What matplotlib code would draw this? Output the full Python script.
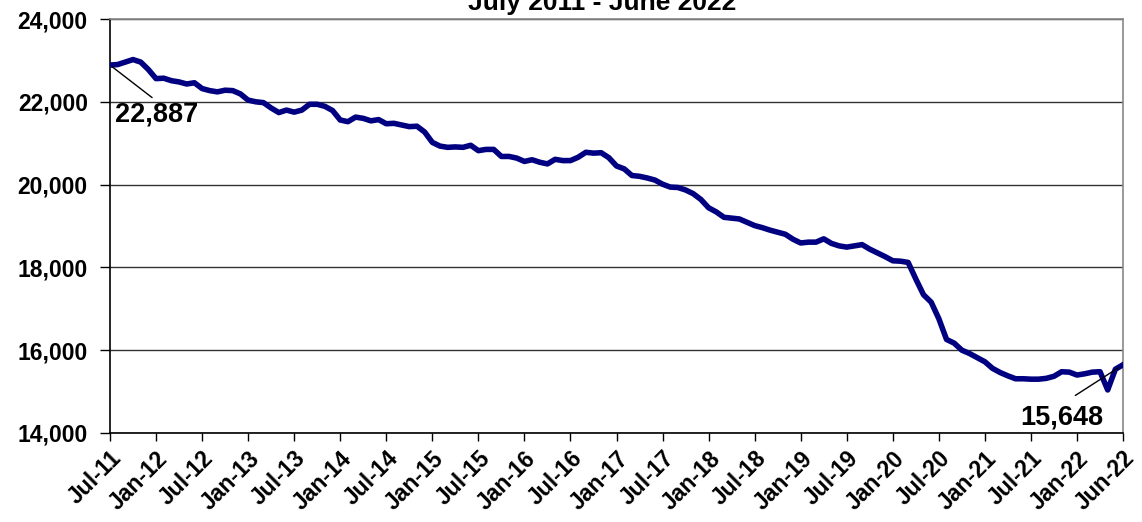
import numpy as np
import matplotlib
matplotlib.use("Agg")
import matplotlib.pyplot as plt
from matplotlib.ticker import FuncFormatter

plt.rcParams['font.family'] = ['Liberation Sans', 'DejaVu Sans']

# monthly values, Jul-11 .. Jun-22
values = [
    22887, 22900, 22960, 23020, 22960, 22780, 22560, 22570, 22510, 22480,
    22430, 22460, 22320, 22270, 22240, 22280, 22270, 22190, 22040, 22000,
    21980, 21850, 21740, 21800, 21750, 21800, 21940, 21940, 21890, 21790,
    21560, 21520, 21630, 21600, 21540, 21570, 21470, 21480, 21440, 21400,
    21410, 21270, 21020, 20930, 20900, 20910, 20900, 20950, 20820, 20850,
    20850, 20680, 20680, 20640, 20560, 20600, 20540, 20500, 20610, 20580,
    20580, 20660, 20780, 20760, 20770, 20650, 20450, 20380, 20220, 20200,
    20160, 20110, 20010, 19940, 19930, 19870, 19780, 19640, 19440, 19340,
    19210, 19190, 19170, 19090, 19010, 18960, 18900, 18850, 18800, 18680,
    18590, 18610, 18610, 18690, 18580, 18520, 18490, 18520, 18550, 18440,
    18350, 18260, 18160, 18150, 18120, 17720, 17340, 17160, 16760, 16260,
    16170, 16000, 15920, 15820, 15720, 15560, 15460, 15380, 15310, 15310,
    15300, 15300, 15320, 15370, 15480, 15470, 15400, 15430, 15470, 15480,
    15040, 15540, 15648,
]
tick_labels = ['Jul-11', 'Jan-12', 'Jul-12', 'Jan-13', 'Jul-13', 'Jan-14',
               'Jul-14', 'Jan-15', 'Jul-15', 'Jan-16', 'Jul-16', 'Jan-17',
               'Jul-17', 'Jan-18', 'Jul-18', 'Jan-19', 'Jul-19', 'Jan-20',
               'Jul-20', 'Jan-21', 'Jul-21', 'Jan-22', 'Jun-22']
title = 'July 2011 - June 2022'

x = np.arange(len(values))
n = len(values) - 1

fig = plt.figure(figsize=(11.42, 5.22), dpi=100)
ax = fig.add_axes([0.0963, 0.1705, 0.8871, 0.7931])

ax.plot(x, values, color='#000080', lw=4.0, solid_joinstyle='round', zorder=3)

ax.set_xlim(0, n)
ax.set_ylim(14000, 24000)
ax.set_yticks(np.arange(14000, 24001, 2000))
ax.yaxis.set_major_formatter(FuncFormatter(lambda v, p: f'{int(v):,}'))
ax.grid(axis='y', color='#333333', lw=1.0)
ax.set_axisbelow(True)

tick_pos = list(range(0, n - 5, 6)) + [n]
ax.set_xticks(tick_pos)
ax.set_xticklabels(tick_labels, rotation=45, ha='right', rotation_mode='anchor')

for lab in ax.get_xticklabels() + ax.get_yticklabels():
    lab.set_fontweight('bold')
    lab.set_fontsize(16.5)
ax.tick_params(axis='y', length=7, width=1, color='black', pad=9)
ax.tick_params(axis='x', length=6, width=1, color='black', pad=4)

ax.spines['left'].set_color('black')
ax.spines['bottom'].set_color('black')
ax.spines['top'].set_color('#888888')
ax.spines['right'].set_color('#888888')
for s in ax.spines.values():
    s.set_linewidth(1.2)

# data labels for first and last points
ax.annotate(f'{values[0]:,}', xy=(x[0], values[0]), xytext=(6.1, 21700),
            ha='center', va='center', fontsize=19.5, fontweight='bold',
            arrowprops=dict(arrowstyle='-', color='black', lw=1,
                            relpos=(0.5, 1.0), shrinkA=1, shrinkB=2))
ax.annotate(f'{values[-1]:,}', xy=(x[-1], values[-1]), xytext=(124.0, 14380),
            ha='center', va='center', fontsize=19.5, fontweight='bold',
            arrowprops=dict(arrowstyle='-', color='black', lw=1,
                            relpos=(0.5, 1.0), shrinkA=8, shrinkB=4))

fig.text(0.527, 0.995, title, ha='center', va='center', fontsize=19,
         fontweight='bold')

fig.savefig('out.png', dpi=100)
